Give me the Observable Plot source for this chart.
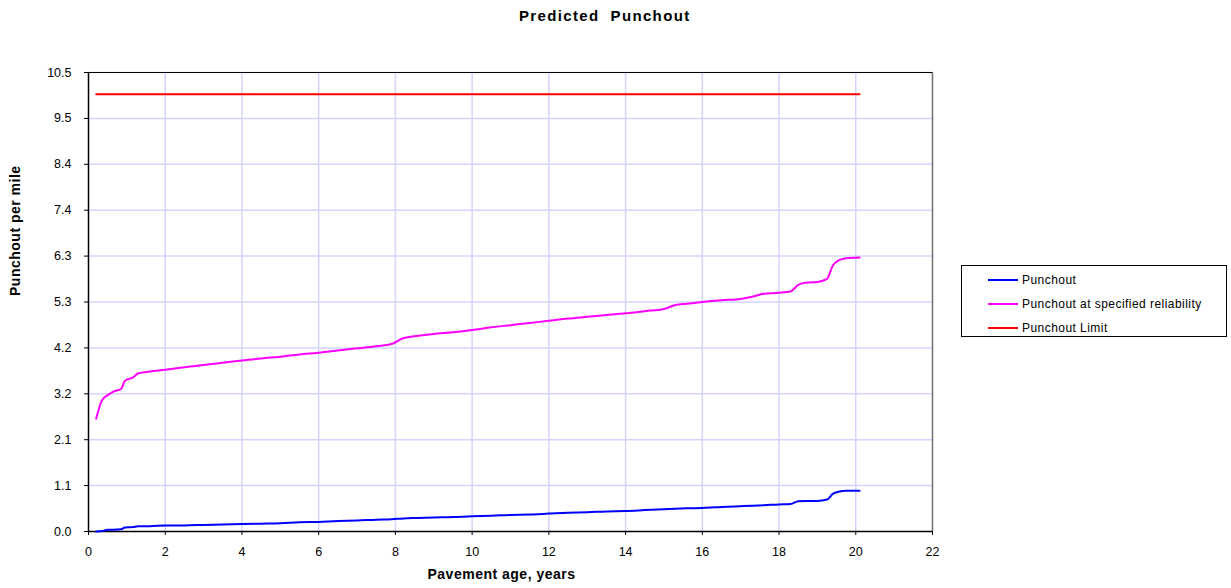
<!DOCTYPE html>
<html>
<head>
<meta charset="utf-8">
<script src="https://cdn.jsdelivr.net/npm/d3@7"></script>
<script src="https://cdn.jsdelivr.net/npm/@observablehq/plot@0.6"></script>
<style>
  body { margin: 0; background: #fff; font-family: "Liberation Sans", Arial, sans-serif; }
  #wrap { position: relative; width: 1231px; height: 588px; }
  #title { position: absolute; left: 519px; top: 7px; font-weight: bold; font-size: 15px; letter-spacing: 1.35px; white-space: pre; }
  #legend { position: absolute; left: 961px; top: 265px; width: 266px; height: 72px; border: 1px solid #000; box-sizing: border-box; font-size: 12px; letter-spacing: 0.45px; }
  #legend .row { position: absolute; left: 26px; height: 14px; display: flex; align-items: center; white-space: nowrap; }
  #legend .sw { width: 30px; height: 2px; margin-right: 4px; }
  #chart { position: absolute; left: 0; top: 0; }
</style>
</head>
<body>
<div id="wrap">
  <div id="chart"></div>
  <div id="title">Predicted  Punchout</div>
  <div id="legend"></div>
</div>
<script>
// Pavement age (years) at each sample
const ageYears = [0.2, 0.35, 0.5, 0.65, 0.85, 0.95, 1.15, 1.3, 1.6, 2.0, 2.5, 3.0, 3.5, 4.0, 4.5, 5.0, 5.5, 6.0, 6.5, 7.0, 7.5, 7.9, 8.2, 8.6, 9.0, 9.5, 10.0, 10.5, 11.0, 11.5, 12.0, 12.5, 13.0, 13.5, 14.0, 14.5, 15.0, 15.3, 15.6, 16.0, 16.5, 17.0, 17.3, 17.6, 18.0, 18.3, 18.5, 18.7, 19.0, 19.25, 19.4, 19.55, 19.75, 20.1];

// Mean predicted punchouts per mile
const punchout = [0.00, 0.01, 0.04, 0.04, 0.05, 0.09, 0.10, 0.12, 0.12, 0.14, 0.14, 0.15, 0.16, 0.17, 0.18, 0.19, 0.21, 0.22, 0.24, 0.25, 0.27, 0.28, 0.30, 0.31, 0.32, 0.33, 0.35, 0.36, 0.38, 0.39, 0.41, 0.43, 0.44, 0.46, 0.47, 0.49, 0.51, 0.52, 0.53, 0.54, 0.56, 0.58, 0.59, 0.60, 0.62, 0.63, 0.69, 0.70, 0.70, 0.73, 0.86, 0.91, 0.93, 0.93];

// Punchouts per mile at the specified reliability
const punchoutReliability = [2.58, 3.00, 3.12, 3.20, 3.26, 3.45, 3.52, 3.62, 3.66, 3.70, 3.76, 3.81, 3.86, 3.91, 3.96, 4.00, 4.05, 4.09, 4.14, 4.19, 4.24, 4.29, 4.42, 4.48, 4.52, 4.56, 4.61, 4.67, 4.72, 4.77, 4.82, 4.87, 4.91, 4.95, 4.99, 5.04, 5.09, 5.18, 5.21, 5.25, 5.29, 5.32, 5.37, 5.44, 5.46, 5.49, 5.64, 5.69, 5.71, 5.78, 6.08, 6.20, 6.25, 6.27];

// Design limit
const punchoutLimit = 10;

// Axis ticks and titles
const xTicks = [0, 2, 4, 6, 8, 10, 12, 14, 16, 18, 20, 22];
const yTickLabels = ["0.0", "1.1", "2.1", "3.2", "4.2", "5.3", "6.3", "7.4", "8.4", "9.5", "10.5"];
const yMax = 10.5;
const yTicks = yTickLabels.map((_, i) => i * yMax / (yTickLabels.length - 1));
const xTitle = "Pavement age, years";
const yTitle = "Punchout per mile";

const seriesNames = ["Punchout", "Punchout at specified reliability", "Punchout Limit"];
const seriesColors = ["#0000ff", "#ff00ff", "#ff0000"];

const rows = [];
ageYears.forEach((a, i) => {
  rows.push({age: a, value: punchout[i], series: seriesNames[0]});
  rows.push({age: a, value: punchoutReliability[i], series: seriesNames[1]});
});
const limitRows = [ageYears[0], ageYears[ageYears.length - 1]].map(a => ({age: a, value: punchoutLimit, series: seriesNames[2]}));

const grid = "#d4d4ff";
const titleStyle = {fontSize: 14, fontWeight: "bold", fill: "#000"};

const chart = Plot.plot({
  width: 1231,
  height: 588,
  marginLeft: 88,
  marginRight: 299,
  marginTop: 72,
  marginBottom: 57,
  style: {fontFamily: "'Liberation Sans', Arial, sans-serif", fontSize: "12.5px", color: "#000", background: "transparent"},
  x: {domain: [0, 22]},
  y: {domain: [0, yMax]},
  color: {domain: seriesNames, range: seriesColors},
  marks: [
    Plot.ruleX(xTicks.slice(1, -1), {stroke: grid, strokeWidth: 1.5}),
    Plot.ruleY(yTicks.slice(1), {stroke: grid, strokeWidth: 1.5}),
    Plot.ruleX([22], {stroke: "#707070", strokeWidth: 1.5}),
    Plot.ruleY([yMax], {stroke: "#000", strokeWidth: 1}),
    Plot.axisX({ticks: xTicks, tickSize: 4, tickPadding: 12, label: null, fontSize: 12.5}),
    Plot.axisY({ticks: yTicks, tickFormat: (d, i) => yTickLabels[i], tickSize: 4, tickPadding: 13, label: null, fontSize: 12.5}),
    Plot.ruleX([0], {stroke: "#000", strokeWidth: 1.5}),
    Plot.ruleY([0], {stroke: "#000", strokeWidth: 1.5}),
    Plot.text([xTitle], {frameAnchor: "bottom", dy: 47, dx: -9, ...titleStyle}),
    Plot.text([yTitle], {frameAnchor: "left", rotate: -90, dx: -73, dy: -6, ...titleStyle}),
    Plot.line(limitRows, {x: "age", y: "value", stroke: "series", strokeWidth: 2}),
    Plot.line(rows, {x: "age", y: "value", z: "series", stroke: "series", strokeWidth: 2, curve: "monotone-x"})
  ]
});
d3.select(chart).selectAll("text").filter(function () { return this.textContent === xTitle || this.textContent === yTitle; })
  .style("letter-spacing", "0.5px");
document.getElementById("chart").appendChild(chart);

const legend = document.getElementById("legend");
seriesNames.forEach((name, i) => {
  const row = document.createElement("div");
  row.className = "row";
  row.style.top = (7 + i * 24) + "px";
  const sw = document.createElement("div");
  sw.className = "sw";
  sw.style.background = seriesColors[i];
  const t = document.createElement("span");
  t.textContent = name;
  row.appendChild(sw);
  row.appendChild(t);
  legend.appendChild(row);
});
</script>
</body>
</html>
